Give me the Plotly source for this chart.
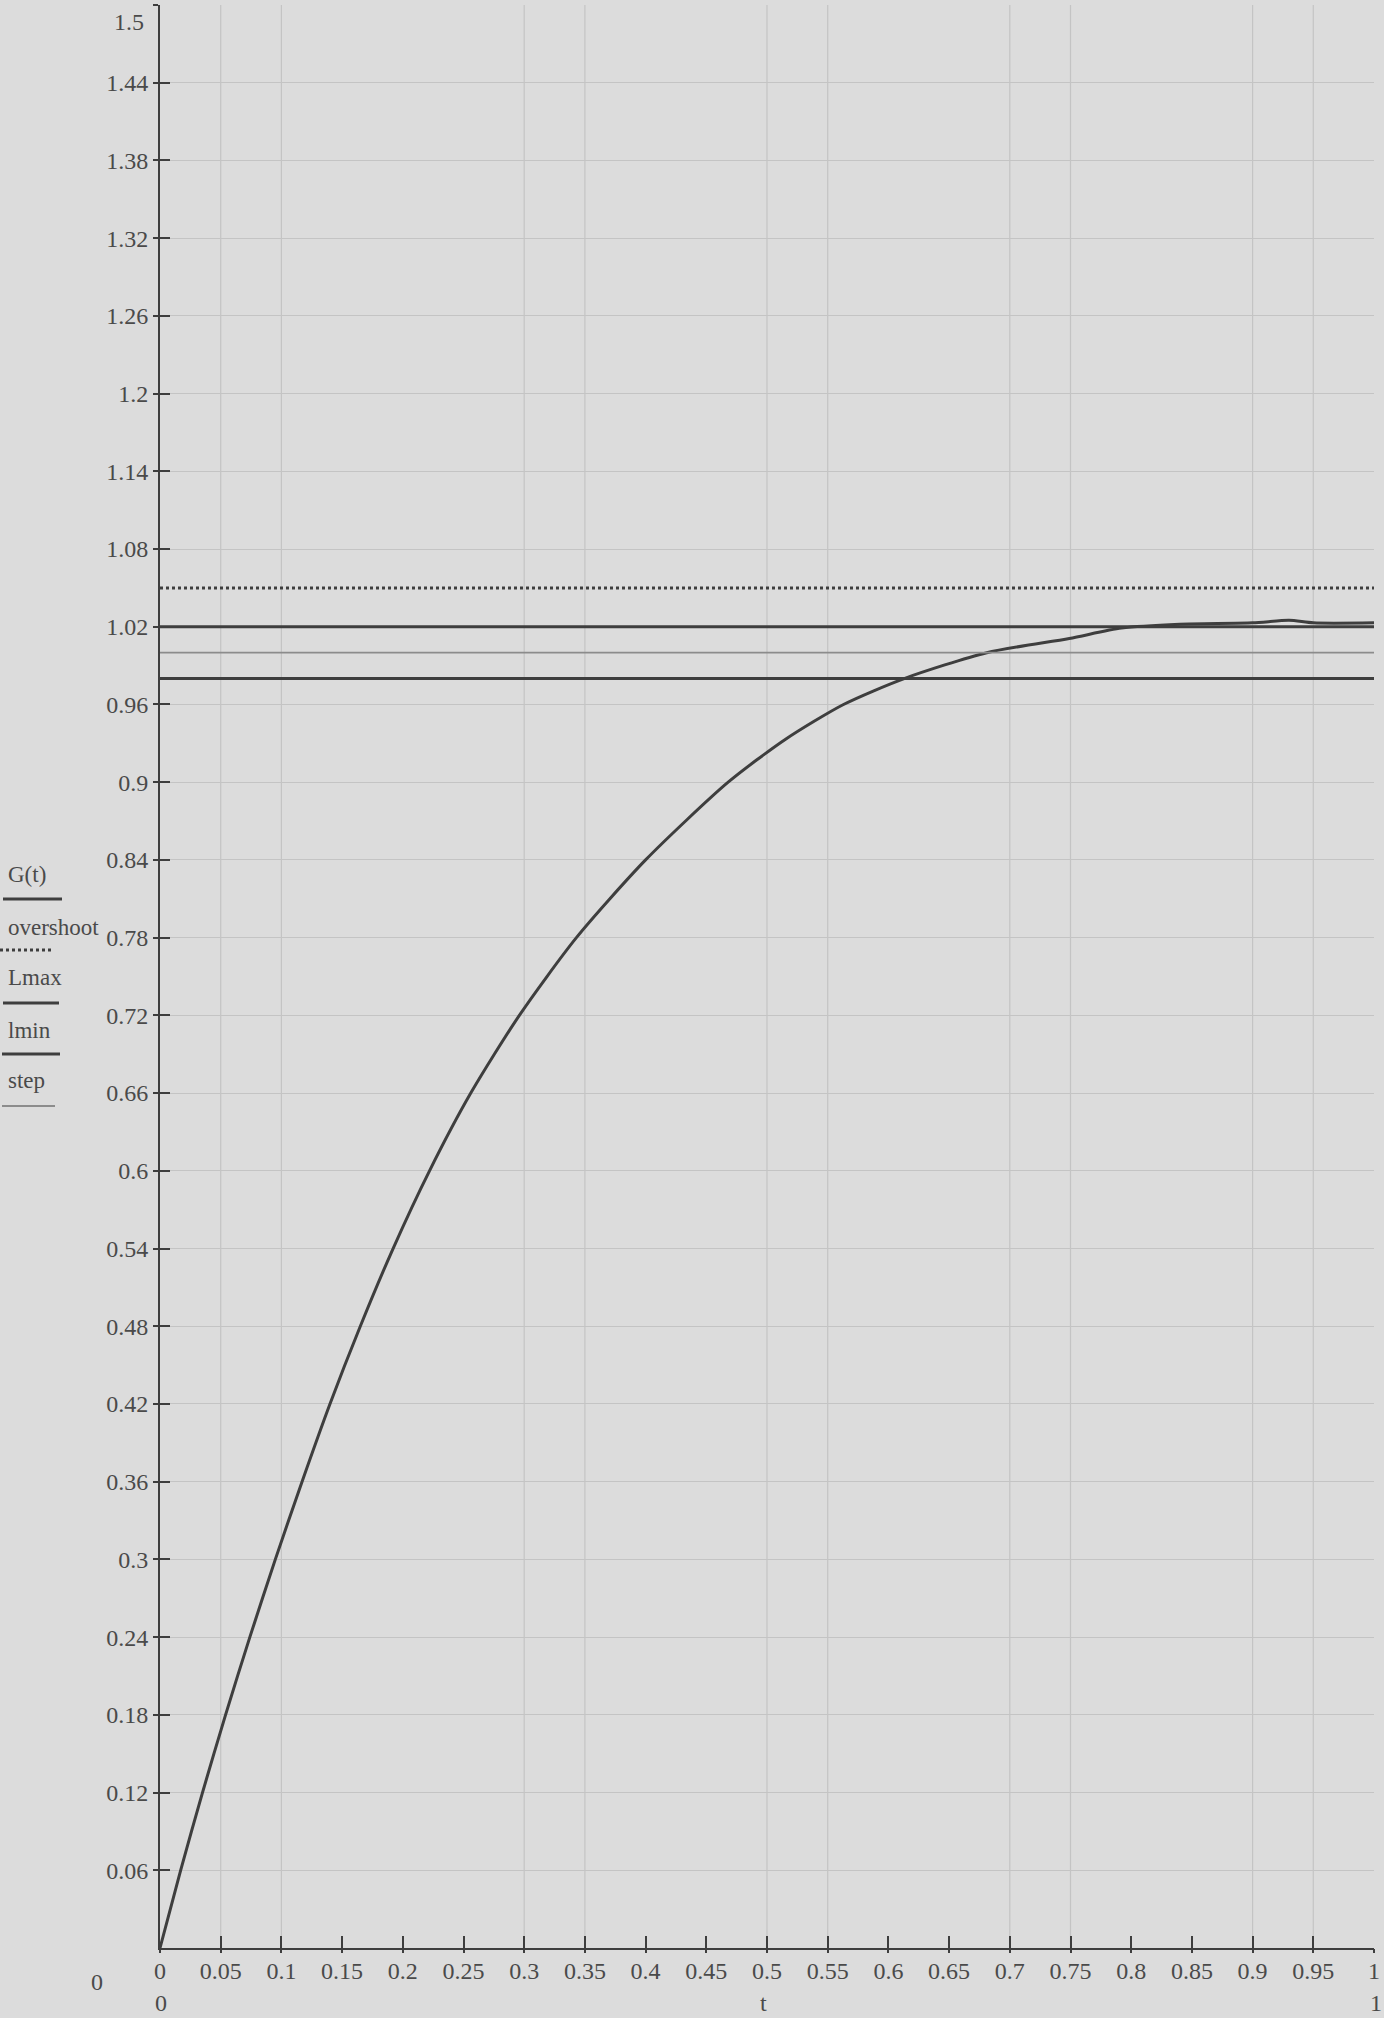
import plotly.graph_objects as go

# ---- data ----
t_vals = [0.0, 0.017, 0.035, 0.054, 0.074, 0.095, 0.117, 0.14, 0.165, 0.192,
          0.222, 0.256, 0.296, 0.343, 0.40, 0.468, 0.515, 0.563, 0.613, 0.681,
          0.749, 0.792, 0.84, 0.9, 0.93, 0.95, 1.0]
g_vals = [0.0, 0.06, 0.12, 0.18, 0.24, 0.30, 0.36, 0.42, 0.48, 0.54,
          0.60, 0.66, 0.72, 0.78, 0.84, 0.90, 0.933, 0.96, 0.98, 1.0,
          1.011, 1.019, 1.022, 1.023, 1.025, 1.023, 1.023]

overshoot_level = 1.05
lmax_level = 1.02
lmin_level = 0.98
step_level = 1.0
t_range = [0, 1]

x_ticks = [0, 0.05, 0.1, 0.15, 0.2, 0.25, 0.3, 0.35, 0.4, 0.45, 0.5,
           0.55, 0.6, 0.65, 0.7, 0.75, 0.8, 0.85, 0.9, 0.95, 1]
x_tick_text = ["0", "0.05", "0.1", "0.15", "0.2", "0.25", "0.3", "0.35", "0.4", "0.45", "0.5",
               "0.55", "0.6", "0.65", "0.7", "0.75", "0.8", "0.85", "0.9", "0.95", "1"]
y_ticks = [0.06, 0.12, 0.18, 0.24, 0.3, 0.36, 0.42, 0.48, 0.54, 0.6, 0.66, 0.72,
           0.78, 0.84, 0.9, 0.96, 1.02, 1.08, 1.14, 1.2, 1.26, 1.32, 1.38, 1.44, 1.5]
y_tick_text = ["0.06", "0.12", "0.18", "0.24", "0.3", "0.36", "0.42", "0.48", "0.54", "0.6",
               "0.66", "0.72", "0.78", "0.84", "0.9", "0.96", "1.02", "1.08", "1.14", "1.2",
               "1.26", "1.32", "1.38", "1.44", "1.5"]
x_grid = [0.05, 0.1, 0.3, 0.35, 0.5, 0.55, 0.7, 0.75, 0.9, 0.95]
legend_names = ["G(t)", "overshoot", "Lmax", "lmin", "step"]

# ---- style ----
BG = "#dcdcdc"
INK = "#3e3e3e"
TXT = "#4a4a4a"
GRID = "#c4c4c4"
FONT = "Liberation Serif"
W, H = 1384, 2018
L, R, T, B = 160, 10, 5, 70
PW, PH = W - L - R, H - T - B


def px(x):
    return (x - L) / PW


def py(y):
    return (H - B - y) / PH


fig = go.Figure()

fig.add_trace(go.Scatter(x=t_vals, y=g_vals, mode="lines", name=legend_names[0],
                         line=dict(color=INK, width=3, shape="spline", smoothing=0.7)))
fig.add_trace(go.Scatter(x=t_range, y=[overshoot_level] * 2, mode="lines", name=legend_names[1],
                         line=dict(color=INK, width=3, dash="dot")))
fig.add_trace(go.Scatter(x=t_range, y=[lmax_level] * 2, mode="lines", name=legend_names[2],
                         line=dict(color=INK, width=3)))
fig.add_trace(go.Scatter(x=t_range, y=[lmin_level] * 2, mode="lines", name=legend_names[3],
                         line=dict(color=INK, width=3)))
fig.add_trace(go.Scatter(x=t_range, y=[step_level] * 2, mode="lines", name=legend_names[4],
                         line=dict(color="#8c8c8c", width=1.8)))
# invisible helper trace for the overlay axes (tick parts on the other side)
fig.add_trace(go.Scatter(x=t_range, y=[0, 0], xaxis="x2", yaxis="y2", mode="lines",
                         line=dict(width=0), showlegend=False, hoverinfo="skip"))

# vertical grid lines
for g in x_grid:
    fig.add_shape(type="line", xref="x", yref="paper", x0=g, x1=g, y0=0, y1=1,
                  line=dict(color=GRID, width=1.2), layer="below")

tickfont = dict(family=FONT, size=24, color=TXT)
fig.update_layout(
    width=W, height=H, margin=dict(l=L, r=R, t=T, b=B),
    paper_bgcolor=BG, plot_bgcolor=BG, showlegend=False,
    xaxis=dict(range=t_range, tickvals=x_ticks, ticktext=x_tick_text, ticks="inside",
               ticklen=12, tickwidth=1.5, tickcolor=INK, showline=True, linecolor=INK,
               linewidth=2, showgrid=False, zeroline=False, tickfont=tickfont),
    yaxis=dict(range=[0, 1.5], tickvals=y_ticks, ticktext=y_tick_text, ticks="outside",
               ticklen=5, tickwidth=1.5, tickcolor=INK, showline=True, linecolor=INK,
               linewidth=2, showgrid=True, gridcolor=GRID, gridwidth=1.2, zeroline=False,
               tickfont=tickfont),
    xaxis2=dict(range=t_range, overlaying="x", tickvals=x_ticks, ticks="outside", ticklen=4,
                tickwidth=1.5, tickcolor=INK, showticklabels=False, showgrid=False,
                zeroline=False, showline=False),
    yaxis2=dict(range=[0, 1.5], overlaying="y", tickvals=y_ticks, ticks="inside", ticklen=10,
                tickwidth=1.5, tickcolor=INK, showticklabels=False, showgrid=False,
                zeroline=False, showline=False),
)

ann = []


def text(s, x, y, anchor="center", size=24):
    ann.append(dict(text=s, x=px(x), y=py(y), xref="paper", yref="paper", showarrow=False,
                    xanchor=anchor, yanchor="middle", font=dict(family=FONT, size=size, color=TXT)))


# axis limit labels (Mathcad style)
text("1.5", 129, 22)
text("0", 97, 1982)
text("0", 161, 2003)
text("t", 763, 2003)
text("1", 1376, 2003)

# legend block on the left
leg_text_y = [875, 927, 978, 1030, 1080]
leg_line_y = [899, 950, 1003, 1054, 1106]
leg_line_x = [(3, 62), (0, 52), (3, 59), (2, 60), (2, 55)]
leg_style = [dict(color=INK, width=3), dict(color=INK, width=3, dash="dot"),
             dict(color=INK, width=3), dict(color=INK, width=3), dict(color="#8c8c8c", width=1.8)]
for name, ty, ly, (x0, x1), st in zip(legend_names, leg_text_y, leg_line_y, leg_line_x, leg_style):
    text(name, 6, ty, anchor="left", size=23)
    fig.add_shape(type="line", xref="paper", yref="paper", x0=px(x0), x1=px(x1),
                  y0=py(ly), y1=py(ly), line=st)

fig.update_layout(annotations=ann)
fig.write_html("out.html", config={"displayModeBar": False},
               post_script="document.body.style.margin='0';document.body.style.background='#dcdcdc';")
